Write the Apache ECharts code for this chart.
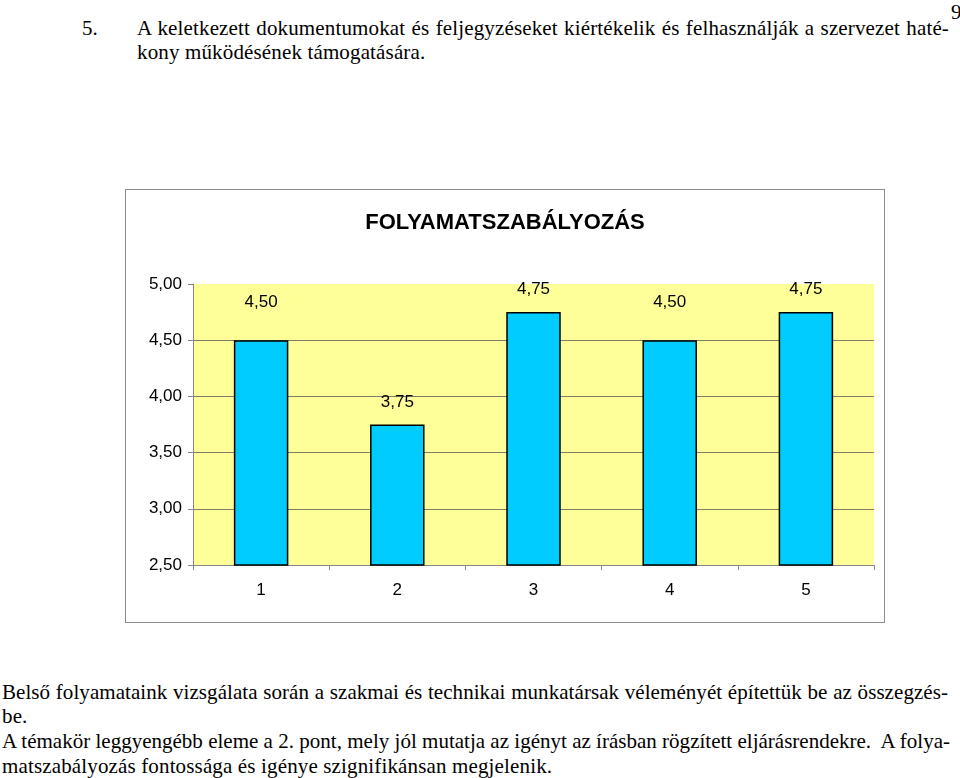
<!DOCTYPE html>
<html>
<head>
<meta charset="utf-8">
<script src="https://cdn.jsdelivr.net/npm/echarts@6/dist/echarts.min.js"></script>
<style>
  html, body { margin:0; padding:0; background:#fff; }
  body { width:960px; height:778px; position:relative; overflow:hidden;
         font-family:"Liberation Serif","Times New Roman",Times,serif; font-size:21px; color:#000; }
  .ln { position:absolute; line-height:24px; white-space:nowrap; }
  #chart { position:absolute; left:125px; top:189px; width:758px; height:432px;
           border:1px solid #8c8c8c; }
</style>
</head>
<body>
<div class="ln" style="left:951px; top:0px;">9</div>
<div class="ln" style="left:82px; top:16px;">5.</div>
<div class="ln just" data-w="812" style="left:137px; top:16px;">A keletkezett dokumentumokat és feljegyzéseket kiértékelik és felhasználják a szervezet haté-</div>
<div class="ln fill" style="left:137px; top:40px;">kony működésének támogatására.</div>

<div id="chart"></div>

<div class="ln just" data-w="946" style="left:2px; top:680px;">Belső folyamataink vizsgálata során a szakmai és technikai munkatársak véleményét építettük be az összegzés-</div>
<div class="ln fill" style="left:2px; top:704px;">be.</div>
<div class="ln just" data-w="948" style="left:2px; top:729px;">A témakör leggyengébb eleme a 2. pont, mely jól mutatja az igényt az írásban rögzített eljárásrendekre.&nbsp; A folya-</div>
<div class="ln fill" style="left:2px; top:754px;">matszabályozás fontossága és igénye szignifikánsan megjelenik.</div>

<script>
// justify lines by hand: part of the slack goes to letters, the rest to spaces
var letterPad = 0;
document.querySelectorAll('.just').forEach(function (el) {
  var target = +el.getAttribute('data-w');
  var natural = el.getBoundingClientRect().width;
  var txt = el.textContent;
  var spaces = (txt.match(/ /g) || []).length;
  var extra = target - natural;
  var ls = extra > 0 ? (extra * 0.6) / txt.length : 0;
  letterPad = Math.max(letterPad, ls);
  el.style.letterSpacing = ls + 'px';
  var after = el.getBoundingClientRect().width;
  if (spaces) el.style.wordSpacing = ((target - after) / spaces) + 'px';
});
document.querySelectorAll('.fill').forEach(function (el) {
  el.style.letterSpacing = letterPad + 'px';
});

// chart data
var chartTitle = 'FOLYAMATSZABÁLYOZÁS';
var categories = ['1', '2', '3', '4', '5'];
var values = [4.50, 3.75, 4.75, 4.50, 4.75];
// label gap above each bar (excel put the 4,50 ones higher)
var labelGap = [29, 14, 14, 29, 14];

var fmt = function (v) { return v.toFixed(2).replace('.', ','); };

var myChart = echarts.init(document.getElementById('chart'), null, { renderer: 'canvas' });

var barData = values.map(function (v, i) {
  return { value: v, label: { distance: labelGap[i] } };
});

var option = {
  animation: false,
  backgroundColor: '#ffffff',
  textStyle: { fontFamily: 'Liberation Sans, Arial, sans-serif' },
  title: {
    text: chartTitle,
    left: 'center',
    top: 17,
    textStyle: { fontSize: 22, fontWeight: 'bold', color: '#000',
                 fontFamily: 'Liberation Sans, Arial, sans-serif' }
  },
  grid: {
    left: 67, right: 10, top: 94, bottom: 57,
    show: true, backgroundColor: '#FFFF99', borderWidth: 0
  },
  xAxis: {
    type: 'category',
    data: categories,
    axisLine: { lineStyle: { color: '#888888', width: 1 } },
    axisTick: { show: true, alignWithLabel: false, length: 5, lineStyle: { color: '#888888' } },
    axisLabel: { color: '#000', fontSize: 17, margin: 17 },
    splitLine: { show: false }
  },
  yAxis: {
    type: 'value',
    min: 2.5, max: 5, interval: 0.5,
    axisLine: { show: true, lineStyle: { color: '#888888', width: 1 } },
    axisTick: { show: true, length: 5, lineStyle: { color: '#888888' } },
    axisLabel: { color: '#000', fontSize: 17, margin: 11, formatter: fmt },
    splitLine: { show: true, showMinLine: false, showMaxLine: false,
                 lineStyle: { color: '#7f7f66', width: 1 } }
  },
  series: [{
    type: 'bar',
    data: barData,
    barWidth: '40%',
    itemStyle: { color: '#00CCFF', borderColor: '#000', borderWidth: 1.5 },
    label: {
      show: true, position: 'top', color: '#000', fontSize: 17,
      formatter: function (p) { return fmt(p.value); }
    }
  }]
};

option && myChart.setOption(option);
</script>
</body>
</html>
